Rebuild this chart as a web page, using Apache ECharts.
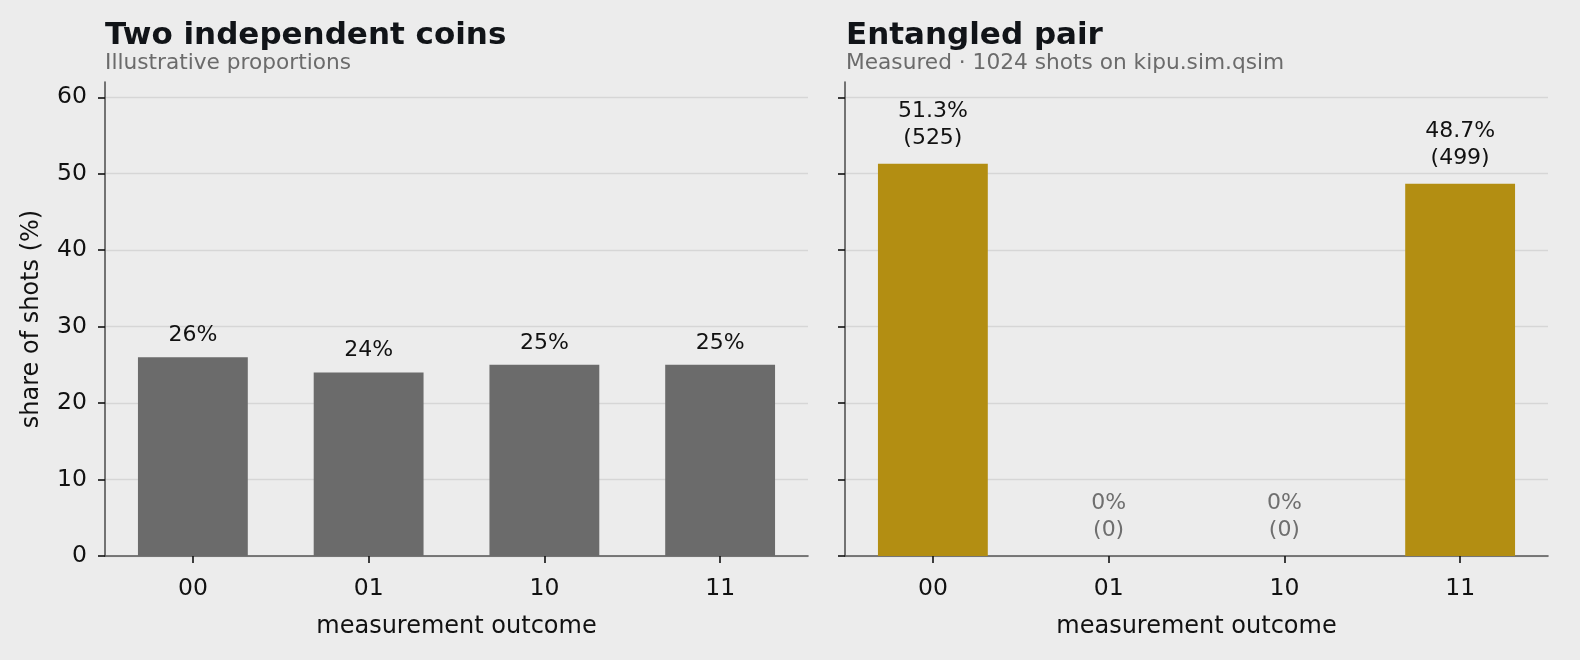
<!DOCTYPE html>
<html>
<head>
<meta charset="utf-8">
<script src="https://cdn.jsdelivr.net/npm/echarts@6/dist/echarts.min.js"></script>
<style>
  html, body { margin: 0; padding: 0; background: #ececec; }
  #chart { width: 1580px; height: 660px; }
</style>
</head>
<body>
<div id="chart"></div>
<script>
// data
const outcomes = ["00", "01", "10", "11"];
const coinShares = [26, 24, 25, 25];
const pairShares = [51.3, 0, 0, 48.7];
const pairCounts = [525, 0, 0, 499];
const yTicks = [0, 10, 20, 30, 40, 50, 60];

const font = "DejaVu Sans";
const axisColor = "#555";

function yAxisFor(gridIndex, showLabels) {
    return {
        type: "value",
        gridIndex: gridIndex,
        min: 0,
        max: 62,
        name: showLabels ? "share of shots (%)" : "",
        nameLocation: "middle",
        nameGap: 61,
        nameTextStyle: {color: "#111", fontSize: 24, fontFamily: font},
        axisLine: {show: true, lineStyle: {color: axisColor, width: 1.6}},
        axisTick: {show: true, length: 7, customValues: yTicks, lineStyle: {color: "#111", width: 1.6}},
        axisLabel: {show: showLabels, customValues: yTicks, color: "#111", fontSize: 23.5, fontFamily: font, margin: 18},
        splitLine: {show: true, lineStyle: {color: "#d6d6d6", width: 1.3}}
    };
}

function xAxisFor(gridIndex) {
    return {
        type: "category",
        gridIndex: gridIndex,
        data: outcomes,
        name: "measurement outcome",
        nameLocation: "middle",
        nameGap: 59,
        nameTextStyle: {color: "#111", fontSize: 24, fontFamily: font},
        axisLine: {show: true, lineStyle: {color: axisColor, width: 1.6}},
        axisTick: {show: true, alignWithLabel: true, length: 7, lineStyle: {color: "#111", width: 1.6}},
        axisLabel: {color: "#111", fontSize: 23.5, fontFamily: font, margin: 21},
        splitLine: {show: false}
    };
}

const titleStyle = {color: "#111418", fontSize: 31, fontWeight: "bold", fontFamily: font};
const subStyle = {color: "#6b6b6b", fontSize: 21.7, fontFamily: font};

const chart = echarts.init(document.getElementById("chart"));
chart.setOption({
    backgroundColor: "#ececec",
    animation: false,
    title: [
        {
            text: "Two independent coins",
            subtext: "Illustrative proportions",
            left: 100, top: 15, itemGap: 1,
            textStyle: titleStyle,
            subtextStyle: subStyle
        },
        {
            text: "Entangled pair",
            subtext: "Measured · 1024 shots on kipu.sim.qsim",
            left: 841, top: 15, itemGap: 1,
            textStyle: titleStyle,
            subtextStyle: subStyle
        }
    ],
    grid: [
        {left: 105, top: 82, width: 703, height: 474},
        {left: 845, top: 82, width: 703, height: 474}
    ],
    xAxis: [xAxisFor(0), xAxisFor(1)],
    yAxis: [yAxisFor(0, true), yAxisFor(1, false)],
    series: [
        {
            type: "bar",
            xAxisIndex: 0,
            yAxisIndex: 0,
            data: coinShares,
            barWidth: "62.5%",
            itemStyle: {color: "#6b6b6b"},
            label: {
                show: true,
                position: "top",
                distance: 11,
                color: "#111",
                fontSize: 22,
                fontFamily: font,
                formatter: p => p.value + "%"
            }
        },
        {
            type: "bar",
            xAxisIndex: 1,
            yAxisIndex: 1,
            data: pairShares.map(v => ({
                value: v,
                label: {color: v === 0 ? "#6f6f6f" : "#111"}
            })),
            barWidth: "62.5%",
            itemStyle: {color: "#b38e12"},
            label: {
                show: true,
                position: "top",
                distance: 12,
                fontSize: 22,
                lineHeight: 27,
                fontFamily: font,
                formatter: p => (p.value === 0 ? "0" : p.value.toFixed(1)) + "%\n(" + pairCounts[p.dataIndex] + ")"
            }
        }
    ]
});
</script>
</body>
</html>
